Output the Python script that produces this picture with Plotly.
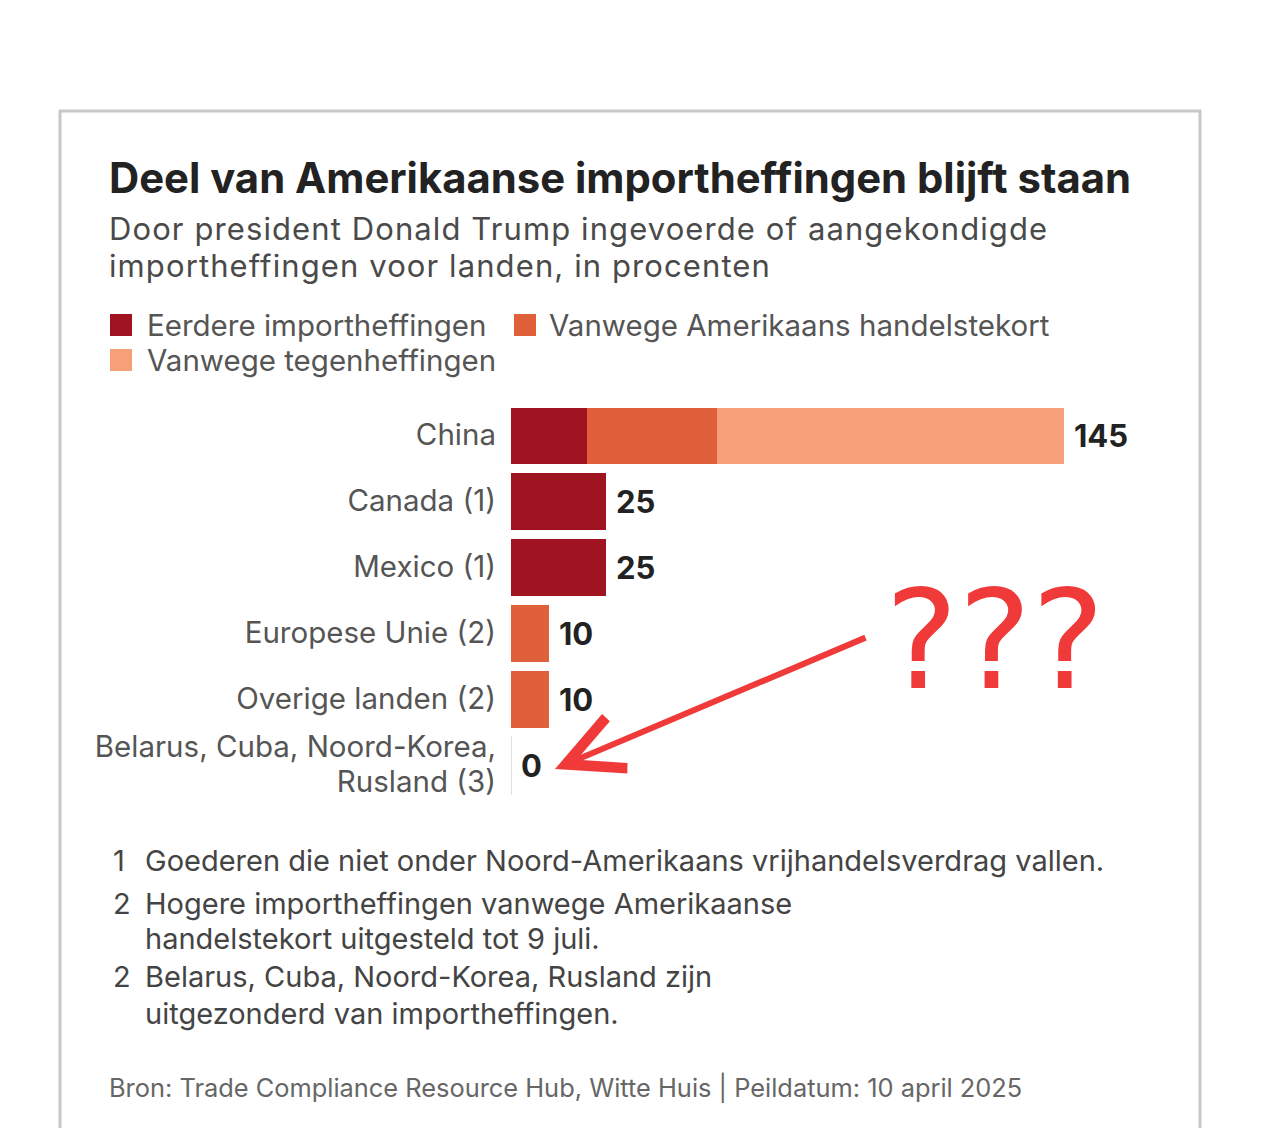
import plotly.graph_objects as go

# ---------------- data ----------------
categories = [
    "China",
    "Canada (1)",
    "Mexico (1)",
    "Europese Unie (2)",
    "Overige landen (2)",
    "Belarus, Cuba, Noord-Korea,<br>Rusland (3)",
]
eerdere = [20, 25, 25, 0, 0, 0]
handelstekort = [34, 0, 0, 10, 10, 0]
tegenheffingen = [91, 0, 0, 0, 0, 0]

series_names = [
    "Eerdere importheffingen",
    "Vanwege Amerikaans handelstekort",
    "Vanwege tegenheffingen",
]
series_colors = ["#9f1420", "#e0603a", "#f5a078"]

title = "Deel van Amerikaanse importheffingen blijft staan"
subtitle_lines = [
    "Door president Donald Trump ingevoerde of aangekondigde",
    "importheffingen voor landen, in procenten",
]
footnote_numbers = ["1", "2", "2"]
footnote_lines = [
    ["Goederen die niet onder Noord-Amerikaans vrijhandelsverdrag vallen."],
    ["Hogere importheffingen vanwege Amerikaanse", "handelstekort uitgesteld tot 9 juli."],
    ["Belarus, Cuba, Noord-Korea, Rusland zijn", "uitgezonderd van importheffingen."],
]
source = "Bron: Trade Compliance Resource Hub, Witte Huis | Peildatum: 10 april 2025"

totals = [a + b + c for a, b, c in zip(eerdere, handelstekort, tegenheffingen)]

# ---------------- layout helpers ----------------
W, H = 1273, 1128
OFF = 8  # page body margin
FONT = "Inter"
LS = 1.3  # plotly line spacing (em)


def px(xp):
    return (xp - OFF) / W


def py(yp):
    return 1 - (yp - OFF) / H


def sized(s, size, spacing=0):
    extra = f";letter-spacing:{spacing}px" if spacing else ""
    return "<br>".join(f"<span style='font-size:{size}px{extra}'>{part}</span>"
                       for part in s.split("<br>"))


fig = go.Figure()
for name, vals, col in zip(series_names, [eerdere, handelstekort, tegenheffingen], series_colors):
    fig.add_trace(go.Bar(
        y=categories, x=vals, orientation="h", name=name,
        marker=dict(color=col, line=dict(width=0)),
        showlegend=False, hoverinfo="x+name",
    ))

x0_px, x1_px = 511, 1200
px_per_unit = 553 / 145
xmax = (x1_px - x0_px) / px_per_unit

TICK_SIZE = 29.5
fig.update_layout(
    width=W, height=H,
    margin=dict(l=0, r=0, t=0, b=0),
    paper_bgcolor="white", plot_bgcolor="rgba(0,0,0,0)",
    barmode="stack", bargap=0.14,
    font=dict(family=FONT, color="#555555"),
    xaxis=dict(domain=[px(x0_px), px(x1_px)], range=[0, xmax],
               visible=False, fixedrange=True),
    yaxis=dict(domain=[py(798), py(403)], autorange="reversed",
               showgrid=False, zeroline=False, showline=False,
               ticks="", ticklabelstandoff=14,
               tickmode="array", tickvals=categories,
               ticktext=[sized(c, TICK_SIZE) for c in categories],
               tickfont=dict(family=FONT, size=35 / LS, color="#555555")),
)

# card frame
fig.add_shape(type="rect", xref="paper", yref="paper",
              x0=px(60), x1=px(1200), y0=py(1150), y1=py(111),
              line=dict(color="#c8c8c8", width=3), fillcolor="white", layer="below")

# zero baseline for the last row
fig.add_shape(type="line", xref="x", yref="y", x0=0, x1=0,
              y0=5 - 0.45, y1=5 + 0.45, line=dict(color="#e0e0e0", width=2))

# value labels
for cat, tot in zip(categories, totals):
    fig.add_annotation(x=tot, y=cat, xref="x", yref="y", text=f"<b>{tot}</b>",
                       showarrow=False, xanchor="left", xshift=8,
                       font=dict(family=FONT, size=31, color="#222222"))


def text(x, y, s, size, color, bold=False, family=FONT, anchor="left"):
    fig.add_annotation(x=px(x), y=py(y), xref="paper", yref="paper",
                       text=f"<b>{s}</b>" if bold else s,
                       showarrow=False, xanchor=anchor, yanchor="middle",
                       font=dict(family=family, size=size, color=color))


def block(x, ys, lines, size, color, spacing=0):
    """multi-line text whose line pitch follows the reference"""
    if len(lines) == 1:
        text(x, ys[0], lines[0], size, color)
        return
    pitch = (ys[-1] - ys[0]) / (len(lines) - 1)
    fig.add_annotation(x=px(x), y=py((ys[0] + ys[-1]) / 2), xref="paper", yref="paper",
                       text=sized("<br>".join(lines), size, spacing), align="left",
                       showarrow=False, xanchor="left", yanchor="middle",
                       font=dict(family=FONT, size=pitch / LS, color=color))


# title / subtitle
text(107, 178, title, 41.8, "#222222", bold=True)
block(107, [228, 265], subtitle_lines, 31, "#4a4a4a", spacing=1.1)

# legend (swatches + labels)
swatches = [(110, 325), (514, 325), (110, 360)]
for (sx, sy), col in zip(swatches, series_colors):
    fig.add_shape(type="rect", xref="paper", yref="paper",
                  x0=px(sx), x1=px(sx + 22), y0=py(sy + 11), y1=py(sy - 11),
                  line=dict(width=0), fillcolor=col)
block(145, [325, 360], [series_names[0], series_names[2]], 29.5, "#555555")
text(547, 325, series_names[1], 29.5, "#555555")

# footnotes
foot_y = [[860], [903, 938], [976, 1013]]
for num, lines, ys in zip(footnote_numbers, footnote_lines, foot_y):
    text(111, ys[0], num, 29, "#444444")
    block(143, ys, lines, 29, "#444444")

text(107, 1087, source, 25.4, "#666666")

# hand-drawn style remark
text(995, 640, "???", 138, "#f03a3a", family="DejaVu Sans", anchor="center")
fig.add_annotation(x=px(555), y=py(769), xref="paper", yref="paper", text="",
                   showarrow=True, ax=312, ay=-132, axref="pixel", ayref="pixel",
                   arrowhead=5, arrowsize=1.8, arrowwidth=6, arrowcolor="#f03a3a")

fig.write_html("out.html")
